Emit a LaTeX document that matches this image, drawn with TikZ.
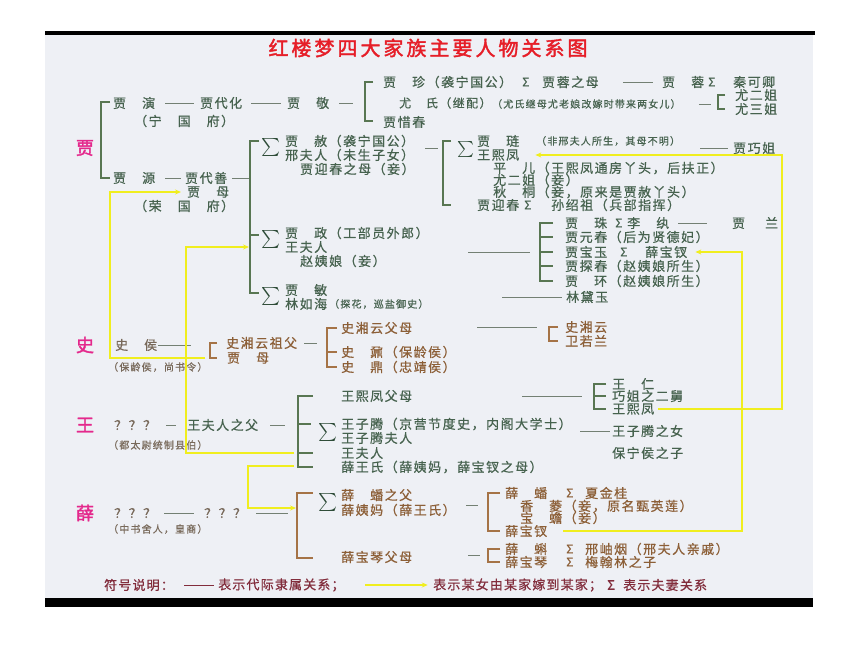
\documentclass[tikz,border=0pt]{standalone}
\usepackage{fontspec}
\setmainfont{Noto Sans CJK SC}[LetterSpace=11.5,FakeBold=0.6]
\newfontfamily\titlefont{Noto Sans CJK SC}[LetterSpace=15,FakeBold=2]
\newfontfamily\famfont{Noto Sans CJK SC}[FakeBold=2]
\newfontfamily\legfont{Noto Sans CJK SC}[LetterSpace=9,FakeBold=0.6]
\usetikzlibrary{arrows.meta}
\definecolor{bgc}{RGB}{238,240,245}
\definecolor{gtx}{RGB}{70,98,78}
\definecolor{btx}{RGB}{140,95,55}
\definecolor{gbt}{RGB}{120,105,90}
\definecolor{gbr}{RGB}{88,118,82}
\definecolor{bbr}{RGB}{165,115,70}
\definecolor{lnc}{RGB}{115,128,115}
\definecolor{yel}{RGB}{240,238,30}
\definecolor{mag}{RGB}{228,40,140}
\definecolor{ttl}{RGB}{230,30,40}
\definecolor{legc}{RGB}{130,45,60}
\definecolor{sig}{RGB}{45,75,55}
\tikzset{
 tx/.style={anchor=west,inner sep=0pt,font=\fontsize{13}{13}\selectfont,text=gtx},
 txb/.style={tx,text=btx},
 sm/.style={anchor=west,inner sep=0pt,font=\fontsize{10}{10}\selectfont,text=gtx},
 smb/.style={sm,text=gbt},
 fam/.style={inner sep=0pt,font=\famfont\fontsize{18}{18}\selectfont,text=mag},
 bsig/.style={inner sep=0pt,font=\normalsize,text=sig},
 ssig/.style={anchor=west,inner sep=0pt,font=\fontsize{12}{12}\selectfont,text=gtx},
 gb/.style={draw=gbr,line width=1.6pt},
 bb/.style={draw=bbr,line width=1.6pt},
 cn/.style={draw=lnc,line width=0.8pt},
 yl/.style={draw=yel,line width=1.4pt},
 ya/.style={yl,-{Stealth[length=6pt,width=5pt]}},
 lg/.style={anchor=west,inner sep=0pt,font=\legfont\fontsize{13}{13}\selectfont,text=legc},
}
\begin{document}
\begin{tikzpicture}[x=1pt,y=-1pt]
\useasboundingbox (0,0) rectangle (860,647);
\fill[white] (0,0) rectangle (860,647);
\fill[bgc] (45,35) rectangle (813,598);
\fill[black] (45,31) rectangle (815,35);
\fill[black] (45,598) rectangle (813,607);

\node[font=\titlefont\fontsize{20}{20}\selectfont,text=ttl,inner sep=0pt] (title) at (428,48) {红楼梦四大家族主要人物关系图};

% ===== 贾 =====
\node[fam] (fjia) at (85,148) {贾};
\draw[gb] (110,102) -- (101,102) -- (101,178) -- (110,178);
\node[tx] (yan) at (113,103) {贾　演};
\node[tx] (daihua) at (200,103) {贾代化};
\node[tx] (jing) at (287,103) {贾　敬};
\draw[cn] ([xshift=10pt]yan.east) -- ([xshift=-6pt]daihua.west);
\draw[cn] ([xshift=9pt]daihua.east) -- ([xshift=-6pt]jing.west);
\draw[cn] ([xshift=10pt]jing.east) -- ([xshift=24pt]jing.east);
\node[tx] (ningguo) at (134,121) {（宁　国　府）};

\draw[gb] (373,82) -- (365,82) -- (365,121) -- (373,121);
\node[tx] (zhen) at (383,82) {贾　珍（袭宁国公）};
\node[ssig] (szhen) at (522,82) {Σ};
\node[tx] (rongmu) at (542,82) {贾蓉之母};
\node[tx] (rong) at (662,82) {贾　蓉};
\draw[cn] ([xshift=24pt]rongmu.east) -- ([xshift=-9pt]rong.west);
\node[ssig] (srong) at (708,82) {Σ};
\node[tx] (qin) at (733,82) {秦可卿};
\node[tx,font=\fontsize{12}{12}\selectfont] (you) at (399,103) {尤　氏（继配）};
\node[sm] (youm) at (492,104) {（尤氏继母尤老娘改嫁时带来两女儿）};
\draw[cn] ([xshift=18pt]youm.east) -- ([xshift=30pt]youm.east);
\draw[gb] (725,95) -- (718,95) -- (718,109) -- (725,109);
\node[tx] (erjie) at (735,95) {尤二姐};
\node[tx] (sanjie) at (735,109) {尤三姐};
\node[tx] (xichun) at (383,122) {贾惜春};

\node[tx] (yuan) at (113,178) {贾　源};
\node[tx] (daishan) at (185,178) {贾代善};
\coordinate (jbm) at (250,178);
\draw[cn] ([xshift=10pt]yuan.east) -- ([xshift=-4pt]daishan.west);
\draw[cn] ([xshift=5pt]daishan.east) -- (jbm);
\node[tx] (jiamu) at (187,192) {贾　母};
\node[tx] (rongguo) at (134,206) {（荣　国　府）};

\draw[gb] (259,141) -- (250,141) -- (250,293) -- (259,293);
\draw[gb] (250,235) -- (259,235);
\node[bsig] (sg1) at (271,148) {\scalebox{1.8}{$\sum$}};
\node[bsig] (sg2) at (271,240) {\scalebox{1.8}{$\sum$}};
\node[bsig] (sg3) at (271,297) {\scalebox{1.8}{$\sum$}};

\node[tx] (she) at (285,141) {贾　赦（袭宁国公）};
\node[tx] (xing) at (285,155) {邢夫人（未生子女）};
\node[tx] (yingmu) at (300,169) {贾迎春之母（妾）};
\coordinate (jb2) at (443,148);
\draw[cn] ([xshift=-18pt]jb2) -- ([xshift=-5pt]jb2);
\draw[gb] (451,141) -- (443,141) -- (443,205) -- (451,205);
\node[bsig] (sg4) at (466,150) {\scalebox{1.6}{$\sum$}};
\node[tx] (lian) at (477,141) {贾　琏};
\node[sm] (lianm) at (536,141) {（非邢夫人所生，其母不明）};
\node[tx] (qiao) at (733,148) {贾巧姐};
\draw[cn] ([xshift=-33pt]qiao.west) -- ([xshift=-5pt]qiao.west);
\node[tx] (xifeng) at (477,155) {王熙凤};
\node[tx] (pinger) at (493,168) {平　儿（王熙凤通房丫头，后扶正）};
\node[tx] (youerjie) at (493,180) {尤二姐（妾）};
\node[tx] (qiutong) at (493,192) {秋　桐（妾，原来是贾赦丫头）};
\node[tx] (yingchun) at (477,205) {贾迎春};
\node[ssig] (sying) at (524,205) {Σ};
\node[tx] (sun) at (551,205) {孙绍祖（兵部指挥）};

\node[tx] (zheng) at (285,233) {贾　政（工部员外郎）};
\node[tx] (wangfr) at (285,247) {王夫人};
\node[tx] (zhaoyn) at (300,261) {赵姨娘（妾）};
\coordinate (jb3) at (540,252);
\draw[cn] ([xshift=-72pt]jb3) -- ([xshift=-10pt]jb3);
\draw[gb] (553,223) -- (540,223) -- (540,281) -- (553,281);
\foreach \yy in {237,252,266} \draw[gb] (540,\yy) -- (553,\yy);
\node[tx] (zhu) at (565,223) {贾　珠};
\node[ssig] (szhu) at (615,223) {Σ};
\node[tx] (liwan) at (627,223) {李　纨};
\node[tx] (lan) at (732,223) {贾\hspace{20pt}兰};
\draw[cn] ([xshift=-54pt]lan.west) -- ([xshift=-25pt]lan.west);
\node[tx] (yuanchun) at (565,237) {贾元春（后为贤德妃）};
\node[tx] (baoyu) at (565,252) {贾宝玉};
\node[ssig] (sbao) at (620,252) {Σ};
\node[tx] (baochai1) at (645,252) {薛宝钗};
\node[tx] (tanchun) at (565,266) {贾探春（赵姨娘所生）};
\node[tx] (huan) at (565,281) {贾　环（赵姨娘所生）};

\node[tx] (min) at (285,290) {贾　敏};
\node[tx] (linrh) at (285,304) {林如海};
\node[sm] (linrhm) at (329,304) {（探花，巡盐御史）};
\node[tx] (daiyu) at (566,297) {林黛玉};
\draw[cn] ([xshift=-64pt]daiyu.west) -- ([xshift=-4pt]daiyu.west);

% ===== 史 =====
\node[fam] (fshi) at (85,345) {史};
\node[tx,text=gbt] (shihou) at (115,345) {史　侯};
\draw[cn] ([xshift=1pt]shihou.east) -- ([xshift=34pt]shihou.east);
\node[smb] (baoling) at (108,367) {（保龄侯，尚书令）};
\draw[bb] (217,343) -- (210,343) -- (210,358) -- (217,358);
\node[txb] (zufu) at (226,343) {史湘云祖父};
\node[txb] (jiamu2) at (227,358) {贾　母};
\draw[cn] ([xshift=7pt]zufu.east) -- ([xshift=20pt]zufu.east);
\draw[bb] (337,328) -- (327,328) -- (327,367) -- (337,367);
\draw[bb] (327,352) -- (337,352);
\node[txb] (shifm) at (341,328) {史湘云父母};
\node[txb] (shinai) at (341,352) {史　鼐（保龄侯）};
\node[txb] (shiding) at (341,367) {史　鼎（忠靖侯）};
\draw[bb] (558,327) -- (549,327) -- (549,341) -- (558,341);
\node[txb] (xiangyun) at (565,327) {史湘云};
\node[txb] (weirl) at (565,341) {卫若兰};
\draw[cn] ([xshift=-88pt]xiangyun.west) -- ([xshift=-28pt]xiangyun.west);

% ===== 王 =====
\node[fam] (fwang) at (85,425) {王};
\node[tx,text=gbt] (q1) at (114,425) {？？？};
\draw[cn] ([xshift=10pt]q1.east) -- ([xshift=20pt]q1.east);
\node[tx] (wfz) at (187,425) {王夫人之父};
\draw[cn] ([xshift=12pt]wfz.east) -- ([xshift=27pt]wfz.east);
\node[smb] (dutw) at (108,445) {（都太尉统制县伯）};
\draw[gb] (313,396) -- (298,396) -- (298,467) -- (313,467);
\draw[gb] (298,424) -- (311,424);
\draw[gb] (298,453) -- (313,453);
\node[bsig] (sg5) at (328,432) {\scalebox{1.8}{$\sum$}};
\node[tx] (xffm) at (341,396) {王熙凤父母};
\node[tx] (ziteng) at (341,424) {王子腾（京营节度史，内阁大学士）};
\node[tx] (zitengfr) at (341,438) {王子腾夫人};
\node[tx] (wfr2) at (341,453) {王夫人};
\node[tx] (xuewang) at (341,467) {薛王氏（薛姨妈，薛宝钗之母）};
\draw[gb] (606,384) -- (594,384) -- (594,409) -- (606,409);
\draw[gb] (594,396) -- (606,396);
\node[tx] (wangren) at (612,384) {王　仁};
\node[tx] (erjiu) at (612,396) {巧姐之二舅};
\node[tx] (xifeng2) at (612,409) {王熙凤};
\draw[cn] ([xshift=-90pt]erjiu.west) -- ([xshift=-30pt]erjiu.west);
\node[tx] (zitengnv) at (612,431) {王子腾之女};
\draw[cn] ([xshift=-32pt]zitengnv.west) -- ([xshift=-2pt]zitengnv.west);
\node[tx] (baoning) at (612,453) {保宁侯之子};

% ===== 薛 =====
\node[fam] (fxue) at (85,513) {薛};
\node[tx,text=gbt] (q2) at (114,513) {？？？};
\draw[cn] ([xshift=8pt]q2.east) -- ([xshift=38pt]q2.east);
\node[tx,text=gbt] (q3) at (204,513) {？？？};
\draw[cn] ([xshift=10pt]q3.east) -- ([xshift=42pt]q3.east);
\node[smb] (zhongshu) at (108,529) {（中书舍人，皇商）};
\draw[bb] (313,493) -- (297,493) -- (297,558) -- (313,558);
\node[bsig] (sg6) at (328,502) {\scalebox{1.8}{$\sum$}};
\node[txb] (panfu) at (341,495) {薛　蟠之父};
\node[txb] (yima) at (341,510) {薛姨妈（薛王氏）};
\coordinate (xb1) at (488,505);
\draw[cn] ([xshift=-22pt]xb1) -- ([xshift=-10pt]xb1);
\draw[bb] (500,493) -- (488,493) -- (488,531) -- (500,531);
\node[txb] (pan) at (505,493) {薛　蟠};
\node[ssig,text=btx] (span) at (566,493) {Σ};
\node[txb] (xiajg) at (585,493) {夏金桂};
\node[txb] (xiangl) at (520,506) {香　菱（妾，原名甄英莲）};
\node[txb] (baochan) at (520,518) {宝　蟾（妾）};
\node[txb] (baochai2) at (505,531) {薛宝钗};
\node[txb] (qinfm) at (341,557) {薛宝琴父母};
\coordinate (xb2) at (488,555);
\draw[cn] ([xshift=-20pt]xb2) -- ([xshift=-8pt]xb2);
\draw[bb] (500,549) -- (488,549) -- (488,562) -- (500,562);
\node[txb] (ke) at (505,549) {薛　蝌};
\node[ssig,text=btx] (ske) at (566,549) {Σ};
\node[txb] (xiuyan) at (585,549) {邢岫烟（邢夫人亲戚）};
\node[txb] (baoqin) at (505,562) {薛宝琴};
\node[ssig,text=btx] (sqin) at (566,562) {Σ};
\node[txb] (meihl) at (585,562) {梅翰林之子};

% ===== legend =====
\node[lg] (leg1) at (104,585) {符号说明：};
\draw[draw=legc,line width=0.8pt] ([xshift=10pt]leg1.east) -- ([xshift=40pt]leg1.east);
\node[lg] (leg2) at (218,585) {表示代际隶属关系；};
\draw[ya] ([xshift=20pt]leg2.east) -- ([xshift=83pt]leg2.east);
\node[lg] (leg3) at (433,585) {表示某女由某家嫁到某家；};
\node[lg] (leg4) at (607,585) {Σ};
\node[lg] (leg5) at (623,585) {表示夫妻关系};

% ===== yellow marriage arrows =====
\coordinate (y1a) at (205,358);
\draw[ya] (y1a) -| (110,192) -- ([xshift=-6pt]jiamu.west);
\coordinate (y2a) at (294,453);
\coordinate (y2b) at (249,247);
\draw[ya] (y2a) -| (186,247) -- (y2b);
\coordinate (y3a) at (294,466);
\coordinate (y3b) at (296,508);
\draw[ya] (y3a) -| (248,508) -- (y3b);
\draw[ya] ([xshift=4pt]xifeng2.east) -| (782,155) -- ([xshift=16pt]xifeng.east);
\draw[ya] ([xshift=16pt]baochai2.east) -| (742,252) -- ([xshift=8pt]baochai1.east);
\end{tikzpicture}
\end{document}
